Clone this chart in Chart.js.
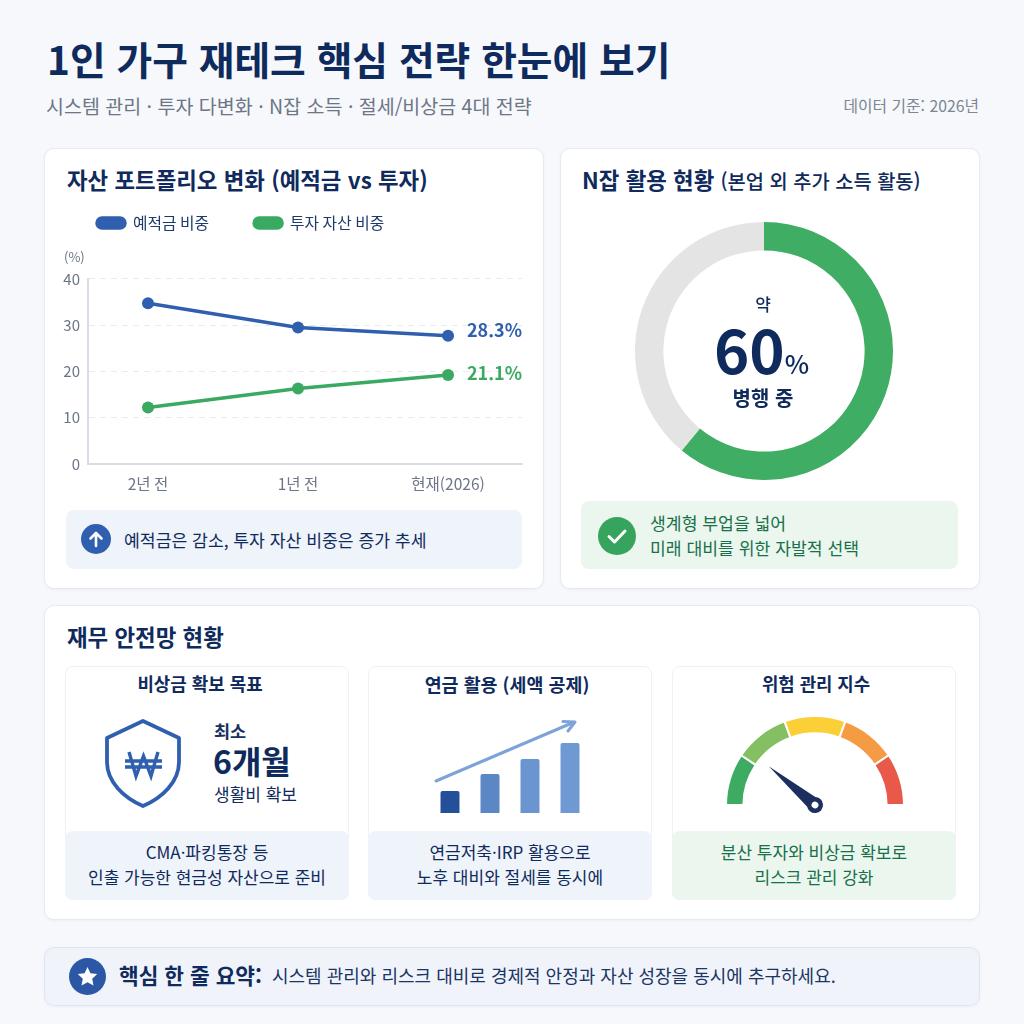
<!DOCTYPE html>
<html lang="ko">
<head>
<meta charset="utf-8">
<title>1인 가구 재테크 핵심 전략</title>
<script src="https://cdn.jsdelivr.net/npm/chart.js@4"></script>
<style>
html, body { margin: 0; padding: 0; }
body { width: 1024px; height: 1024px; position: relative; overflow: hidden; background: #f6f8fc; font-family: "Noto Sans CJK KR", "Noto Sans", sans-serif; color: #0f2a5c; }
.abs, .card, .box, .note, canvas, svg { position: absolute; }
.abs { white-space: nowrap; line-height: 1; }
.c { text-align: center; }
.card { background: #fff; border: 1px solid #e6eaf1; border-radius: 10px; box-sizing: border-box; box-shadow: 0 1px 3px rgba(30,50,90,.05); }
.box { background: #fff; border: 1px solid #eff1f6; border-radius: 8px; box-sizing: border-box; top: 666px; height: 234px; width: 284px; }
.note { background: #eff3fa; border-radius: 8px; box-sizing: border-box; }
.b { font-weight: 700; }
.m { font-weight: 500; }
.lines { line-height: 25px; white-space: normal; }
</style>
</head>
<body>
<div class="abs b" style="left:47px;top:39px;font-size:38.800px;">1인 가구 재테크 핵심 전략 한눈에 보기</div>
<div class="abs" style="left:46px;top:96px;font-size:19.500px;color:#6c7686;">시스템 관리 · 투자 다변화 · N잡 소득 · 절세/비상금 4대 전략</div>
<div class="abs" style="right:45px;top:98px;font-size:15.800px;color:#7d8694;">데이터 기준: 2026년</div>

<div class="card" style="left:44px;top:148px;width:500px;height:441px;"></div>
<div class="card" style="left:560px;top:148px;width:420px;height:441px;"></div>
<div class="card" style="left:44px;top:605px;width:936px;height:315px;"></div>
<div class="card" style="left:44px;top:947px;width:936px;height:59px;background:#f0f4fa;border-color:#dfe6f3;"></div>

<div class="abs b" style="left:67px;top:168px;font-size:22.400px;">자산 포트폴리오 변화 (예적금 vs 투자)</div>
<canvas id="trendChart" style="left:52px;top:170px;width:480px;height:330px;"></canvas>
<div class="abs" style="left:64px;top:250px;font-size:13px;color:#6c7686;">(%)</div>
<div class="note" style="left:66px;top:510px;width:456px;height:59px;"></div>
<svg style="left:81px;top:524px;" width="30" height="30" viewBox="0 0 30 30"><circle cx="15" cy="15" r="15" fill="#2f5fae"/><path d="M15 22V9M9.500 14.500L15 9l5.500 5.500" fill="none" stroke="#fff" stroke-width="2.600" stroke-linecap="round" stroke-linejoin="round"/></svg>
<div class="abs" style="left:124px;top:531px;font-size:17.200px;">예적금은 감소, 투자 자산 비중은 증가 추세</div>

<div class="abs b" style="left:582px;top:168px;font-size:22.400px;">N잡 활용 현황 <span class="m" style="font-size:19.800px;">(본업 외 추가 소득 활동)</span></div>
<canvas id="jobChart" style="left:635px;top:222px;width:258px;height:258px;"></canvas>
<div class="abs c m" style="left:663px;width:200px;top:295px;font-size:17px;">약</div>
<div class="abs c b" style="left:661.500px;width:200px;top:318px;font-size:60px;">60<span class="m" style="font-size:26px;">%</span></div>
<div class="abs c" style="left:663px;width:200px;top:388px;font-size:20px;font-weight:600;">병행 중</div>
<div class="note" style="left:581px;top:501px;width:377px;height:68px;background:#ebf6ee;"></div>
<svg style="left:598px;top:517px;" width="38" height="38" viewBox="0 0 38 38"><circle cx="19" cy="19" r="19" fill="#36a45c"/><path d="M11 19.500l5.500 5.500L27 14" fill="none" stroke="#fff" stroke-width="3" stroke-linecap="round" stroke-linejoin="round"/></svg>
<div class="abs lines" style="left:650px;top:510px;font-size:17.200px;line-height:25px;color:#17704a;">생계형 부업을 넓어<br>미래 대비를 위한 자발적 선택</div>

<div class="abs b" style="left:67px;top:625px;font-size:22.400px;">재무 안전망 현황</div>

<div class="box" style="left:65px;"></div>
<div class="box" style="left:368px;"></div>
<div class="box" style="left:672px;"></div>
<div class="abs c b" style="left:58px;width:284px;top:675px;font-size:17.900px;">비상금 확보 목표</div>
<div class="abs c b" style="left:365px;width:284px;top:675px;font-size:18.400px;">연금 활용 (세액 공제)</div>
<div class="abs c b" style="left:674px;width:284px;top:675px;font-size:17.800px;">위험 관리 지수</div>

<svg style="left:104px;top:718px;" width="80" height="92" viewBox="0 0 80 92"><path d="M39 3L75 20V44C75 64 58 80 39 88C20 80 3 64 3 44V20Z" fill="#fff" stroke="#2f5fae" stroke-width="3.800" stroke-linejoin="round"/><path d="M25 34L32 58L39.500 38L47 58L54 34M21 43H58M21 49H58" fill="none" stroke="#2f5fae" stroke-width="3.400"/></svg>
<div class="abs b" style="left:214px;top:722px;font-size:17.500px;color:#16315f;">최소</div>
<div class="abs b" style="left:213px;top:744px;font-size:32px;">6개월</div>
<div class="abs" style="left:214px;top:785px;font-size:17px;">생활비 확보</div>

<canvas id="pensionChart" style="left:430px;top:733px;width:160px;height:80px;"></canvas>
<svg style="left:430px;top:715px;" width="150" height="70" viewBox="0 0 150 70"><path d="M6 66L142 8" stroke="#7ea3d9" stroke-width="3" stroke-linecap="round"/><path d="M133 6.500L145 7L138 16" fill="none" stroke="#7ea3d9" stroke-width="3" stroke-linejoin="round" stroke-linecap="round"/></svg>

<canvas id="gaugeChart" style="left:724.500px;top:715px;width:180px;height:103px;"></canvas>

<div class="note lines c" style="left:65px;top:831px;width:284px;height:69px;padding-top:8px;font-size:17px;">CMA·파킹통장 등<br>인출 가능한 현금성 자산으로 준비</div>
<div class="note lines c" style="left:368px;top:831px;width:284px;height:69px;padding-top:8px;font-size:17px;">연금저축·IRP 활용으로<br>노후 대비와 절세를 동시에</div>
<div class="note lines c" style="left:672px;top:831px;width:284px;height:69px;padding-top:8px;font-size:17px;background:#ebf6ee;color:#17704a;">분산 투자와 비상금 확보로<br>리스크 관리 강화</div>

<svg style="left:69px;top:958px;" width="37" height="37" viewBox="0 0 37 37"><circle cx="18.500" cy="18.500" r="18.500" fill="#2b57a5"/><path d="M18.500 9l2.900 6.300 6.800.8-5 4.700 1.300 6.800-6-3.400-6 3.400 1.300-6.800-5-4.700 6.800-.8z" fill="#fff"/></svg>
<div class="abs b" style="left:119px;top:964px;font-size:21.400px;">핵심 한 줄 요약:</div>
<div class="abs" style="left:272px;top:966px;font-size:18px;color:#1b3565;">시스템 관리와 리스크 대비로 경제적 안정과 자산 성장을 동시에 추구하세요.</div>

<script>
const periods = ['2년 전', '1년 전', '현재(2026)'];
const depositShare = [34.7, 29.5, 27.7];
const investShare = [12.2, 16.3, 19.2];
const seriesNames = ['예적금 비중', '투자 자산 비중'];
const endLabels = ['28.3%', '21.1%'];
const yTicks = [0, 10, 20, 30, 40];

const jobLabels = ['병행 중', '기타'];
const jobShare = [61, 39];

const pensionSteps = ['1', '2', '3', '4'];
const pensionValues = [22, 39, 54, 70];

const gaugeLabels = ['매우 안전', '안전', '보통', '주의', '위험'];
const gaugeSpans = [34, 36, 40, 36, 34];
const needleAngle = 40;

const BLUE = '#2f5fae';
const GREEN = '#3aa962';
const FONT = '"Noto Sans CJK KR", "Noto Sans", sans-serif';

// end of line labels, right aligned to the plot edge
const endLabelPlugin = {
    id: 'endLabels',
    afterDatasetsDraw(chart) {
        const ctx = chart.ctx;
        const shift = [-6, -2];
        ctx.save();
        ctx.font = '600 18px ' + FONT;
        ctx.textAlign = 'right';
        ctx.textBaseline = 'middle';
        chart.data.datasets.forEach((ds, i) => {
            const pts = chart.getDatasetMeta(i).data;
            ctx.fillStyle = ds.borderColor;
            ctx.fillText(endLabels[i], chart.chartArea.right, pts[pts.length - 1].y + shift[i]);
        });
        ctx.restore();
    }
};

// extra room under the legend, layout padding would move the legend as well
const legendGapPlugin = {
    id: 'legendGap',
    beforeInit(chart) {
        const fit = chart.legend.fit;
        chart.legend.fit = function () {
            fit.call(this);
            this.height += 38;
        };
    }
};

new Chart(document.getElementById('trendChart'), {
    type: 'line',
    data: {
        datasets: [
            { label: seriesNames[0], data: depositShare.map((v, i) => ({ x: i, y: v })), borderColor: BLUE, backgroundColor: BLUE, borderWidth: 3.5, pointRadius: 6, pointHoverRadius: 6, pointBorderColor: '#fff', pointBorderWidth: 0 },
            { label: seriesNames[1], data: investShare.map((v, i) => ({ x: i, y: v })), borderColor: GREEN, backgroundColor: GREEN, borderWidth: 3.5, pointRadius: 6, pointHoverRadius: 6, pointBorderColor: '#fff', pointBorderWidth: 0 }
        ]
    },
    options: {
        responsive: false,
        animation: false,
        layout: { padding: { top: 0, right: 10, bottom: 0, left: 0 } },
        plugins: {
            tooltip: { enabled: false },
            legend: {
                align: 'start',
                labels: {
                    boxWidth: 28, boxHeight: 10, padding: 45, useBorderRadius: true, borderRadius: 5,
                    color: '#1e3a6b', font: { family: FONT, size: 15.8 }
                }
            }
        },
        scales: {
            x: {
                type: 'linear', min: -0.4, max: 2.493,
                afterBuildTicks(axis) { axis.ticks = periods.map((p, i) => ({ value: i })); },
                afterFit(axis) { axis.height = 36; },
                ticks: { callback: v => periods[v], color: '#6c7686', padding: 3, maxRotation: 0, font: { family: FONT, size: 15.5 } },
                grid: { display: false },
                border: { color: '#d8dce5', width: 2 }
            },
            y: {
                min: 0, max: 40,
                afterBuildTicks(axis) { axis.ticks = yTicks.map(v => ({ value: v })); },
                afterFit(axis) { axis.width = 36; },
                ticks: { color: '#6c7686', padding: 8, font: { family: FONT, size: 15 } },
                grid: { color: c => c.tick.value === 0 ? 'transparent' : '#e9ebf0', drawTicks: false },
                border: { color: '#d8dce5', width: 2, dash: [6, 5] }
            }
        }
    },
    plugins: [endLabelPlugin, legendGapPlugin]
});

new Chart(document.getElementById('jobChart'), {
    type: 'doughnut',
    data: {
        labels: jobLabels,
        datasets: [{ data: jobShare, backgroundColor: ['#3fad63', '#e4e4e4'], borderWidth: 0 }]
    },
    options: {
        responsive: false,
        animation: false,
        cutout: '78%',
        plugins: { legend: { display: false }, tooltip: { enabled: false } }
    }
});

new Chart(document.getElementById('pensionChart'), {
    type: 'bar',
    data: {
        labels: pensionSteps,
        datasets: [{
            data: pensionValues,
            backgroundColor: ['#24509a', '#5b87c5', '#6b95d0', '#6f99d3'],
            borderRadius: { topLeft: 2, topRight: 2 },
            borderSkipped: 'bottom',
            barPercentage: 0.475,
            categoryPercentage: 1
        }]
    },
    options: {
        responsive: false,
        animation: false,
        plugins: { legend: { display: false }, tooltip: { enabled: false } },
        scales: {
            x: { display: false },
            y: { display: false, min: 0, max: 80 }
        }
    }
});

// needle over the gauge, angle counted from the left end of the arc
const needlePlugin = {
    id: 'needle',
    afterDatasetsDraw(chart) {
        const arc = chart.getDatasetMeta(0).data[0];
        const ctx = chart.ctx;
        const a = needleAngle * Math.PI / 180;
        ctx.save();
        ctx.translate(arc.x, arc.y);
        ctx.rotate(a);
        ctx.fillStyle = '#1c2f5e';
        ctx.beginPath();
        ctx.moveTo(-60, 0);
        ctx.lineTo(0, -7);
        ctx.lineTo(0, 7);
        ctx.closePath();
        ctx.fill();
        ctx.beginPath();
        ctx.arc(0, 0, 8, 0, Math.PI * 2);
        ctx.fill();
        ctx.fillStyle = '#fff';
        ctx.beginPath();
        ctx.arc(0, 0, 3.4, 0, Math.PI * 2);
        ctx.fill();
        ctx.restore();
    }
};

new Chart(document.getElementById('gaugeChart'), {
    type: 'doughnut',
    data: {
        labels: gaugeLabels,
        datasets: [{
            data: gaugeSpans,
            backgroundColor: ['#3dab62', '#84bf62', '#fbcf36', '#f59b43', '#e9594a'],
            borderColor: '#fff',
            borderWidth: 2
        }]
    },
    options: {
        responsive: false,
        animation: false,
        rotation: -90,
        circumference: 180,
        cutout: '80.5%',
        layout: { padding: { bottom: 12 } },
        plugins: { legend: { display: false }, tooltip: { enabled: false } }
    },
    plugins: [needlePlugin]
});
</script>
</body>
</html>
